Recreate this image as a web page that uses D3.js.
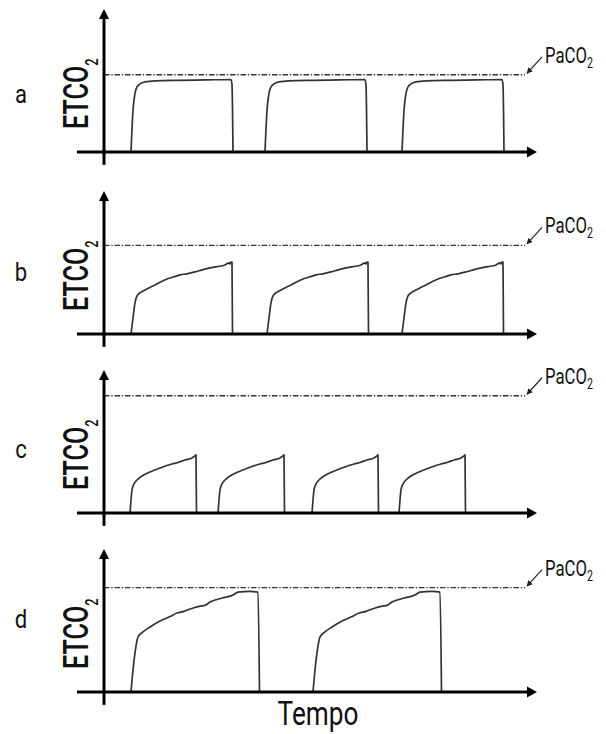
<!DOCTYPE html>
<html>
<head>
<meta charset="utf-8">
<script src="https://cdn.jsdelivr.net/npm/d3@7"></script>
<style>
  body { margin: 0; background: #fff; }
  svg { display: block; font-family: Roboto, "Liberation Sans", sans-serif; }
</style>
</head>
<body>
<svg id="chart" width="606" height="734"></svg>
<script>
// panel letters and the PaCO2 level of each panel (arbitrary units, 0-100)
var panels = ["a", "b", "c", "d"];
var paco2 = [54, 62, 82, 73];

// start time of every breath in each panel
var breathStarts = [
    [2.7, 16.1, 29.8],
    [2.7, 16.3, 29.8],
    [2.6, 11.4, 20.8, 29.5],
    [2.7, 20.9]
];

// one breath, [time since start, ETCO2]
var shapeA = [[0,0],[0.2,29],[0.4,41],[0.6,45.5],[0.9,47.6],[1.4,49],[2.4,49.7],[4.9,50.1],[7.5,50.4],[10.0,50.7],[10.1,47],[10.2,0]];
var shapeB = [[0,0],[0.2,11.2],[0.4,21.7],[0.6,26.6],[0.9,28.7],[1.6,31.5],[2.4,34.3],[3.0,36.6],[3.6,38.5],[4.3,40.0],[4.9,41.3],[5.6,42.1],[6.4,43.4],[7.2,45.0],[7.9,46.2],[8.6,47.1],[9.4,48.3],[9.8,49.7],[9.9,49.0],[10.0,50.3],[10.1,50.3],[10.15,0]];
var shapeC = [[0,0],[0.1,9.1],[0.2,16.1],[0.4,20.3],[0.7,23.1],[1.2,25.9],[2.0,28.7],[3.0,31.5],[4.2,34.3],[4.8,35.3],[5.5,37.1],[6.2,38.5],[6.5,39.9],[6.6,40.6],[6.65,0]];
var shapeD = [[0,0],[0.2,15.4],[0.4,27.3],[0.7,38.5],[1.2,42],[1.9,45.5],[2.9,49.7],[3.8,52.4],[4.6,55.2],[5.3,56.4],[5.9,58],[6.9,60.1],[7.4,60.6],[7.9,62.9],[9.1,65.7],[10.2,67.8],[10.7,69.9],[11.9,70.3],[12.7,69.9],[12.85,0]];
var shapes = [shapeA, shapeB, shapeC, shapeD];

// layout
var axisY = [152, 334, 513, 692];
var letterY = [103, 281, 458, 628];

var svg = d3.select("#chart");

var x = d3.scaleLinear().domain([0, 43]).range([104, 534]);

var defs = svg.append("defs");
defs.append("marker")
    .attr("id", "smallHead")
    .attr("viewBox", "0 0 10 10")
    .attr("refX", 9).attr("refY", 5)
    .attr("markerWidth", 6).attr("markerHeight", 6)
    .attr("markerUnits", "userSpaceOnUse")
    .attr("orient", "auto")
    .append("path").attr("d", "M0,0L10,5L0,10Z").attr("fill", "#222");

function condensed(g, px, py, sx) {
    return g.append("g").attr("transform", "translate(" + px + "," + py + ") scale(" + sx + ",1)");
}

panels.forEach(function(p, i) {
    var base = axisY[i];
    var y = d3.scaleLinear().domain([0, 100]).range([base, base - 143]);
    var g = svg.append("g").attr("class", "panel-" + p);

    // PaCO2 dash-dot line
    var lvl = y(paco2[i]);
    g.append("line")
        .attr("x1", x(0)).attr("x2", x(42.1))
        .attr("y1", lvl).attr("y2", lvl)
        .attr("stroke", "#333").attr("stroke-width", 1.4)
        .attr("stroke-dasharray", "5.5,1.8,1.4,1.8");

    // waveforms
    var line = d3.line()
        .x(function(d) { return x(d[0]); })
        .y(function(d) { return y(d[1]); })
        .curve(d3.curveMonotoneX);
    breathStarts[i].forEach(function(t0) {
        g.append("path")
            .datum(shapes[i].map(function(d) { return [t0 + d[0], d[1]]; }))
            .attr("d", line)
            .attr("fill", "none")
            .attr("stroke", "#333")
            .attr("stroke-width", 1.7)
            .attr("stroke-linejoin", "round");
    });

    // axes
    g.append("line")
        .attr("x1", x(-2.7)).attr("x2", x(42.6))
        .attr("y1", y(0)).attr("y2", y(0))
        .attr("stroke", "#000").attr("stroke-width", 3);
    g.append("path")
        .attr("d", "M" + x(43.3) + "," + y(0) + "l-10,-5.5v11z")
        .attr("fill", "#000");
    g.append("line")
        .attr("x1", x(0)).attr("x2", x(0))
        .attr("y1", y(-9)).attr("y2", y(94))
        .attr("stroke", "#000").attr("stroke-width", 3);
    g.append("path")
        .attr("d", "M" + x(0) + "," + y(100) + "l-5,10h10z")
        .attr("fill", "#000");

    // PaCO2 pointer and label
    g.append("line")
        .attr("x1", 542).attr("y1", lvl - 18)
        .attr("x2", 527).attr("y2", lvl - 1.5)
        .attr("stroke", "#222").attr("stroke-width", 1.2)
        .attr("marker-end", "url(#smallHead)");
    var pl = condensed(g, 545, lvl - 12, 0.76).append("text")
        .attr("font-size", 22).attr("fill", "#111");
    pl.append("tspan").text("PaCO");
    pl.append("tspan").attr("font-size", 14).attr("dy", 5).text("2");

    // ETCO2 label
    var el = g.append("g")
        .attr("transform", "translate(88," + (base - 23) + ") rotate(-90) scale(0.72,1)")
        .append("text").attr("font-size", 35).attr("font-weight", 500).attr("fill", "#111");
    el.append("tspan").text("ETCO");
    el.append("tspan").attr("font-size", 18).attr("dy", 10).text("2");

    // panel letter
    condensed(g, 21, letterY[i], 0.85).append("text")
        .attr("text-anchor", "middle")
        .attr("font-size", 26).attr("fill", "#111")
        .text(p);
});

condensed(svg, 318, 725, 0.77).append("text")
    .attr("text-anchor", "middle")
    .attr("font-size", 34).attr("fill", "#111")
    .text("Tempo");
</script>
</body>
</html>
